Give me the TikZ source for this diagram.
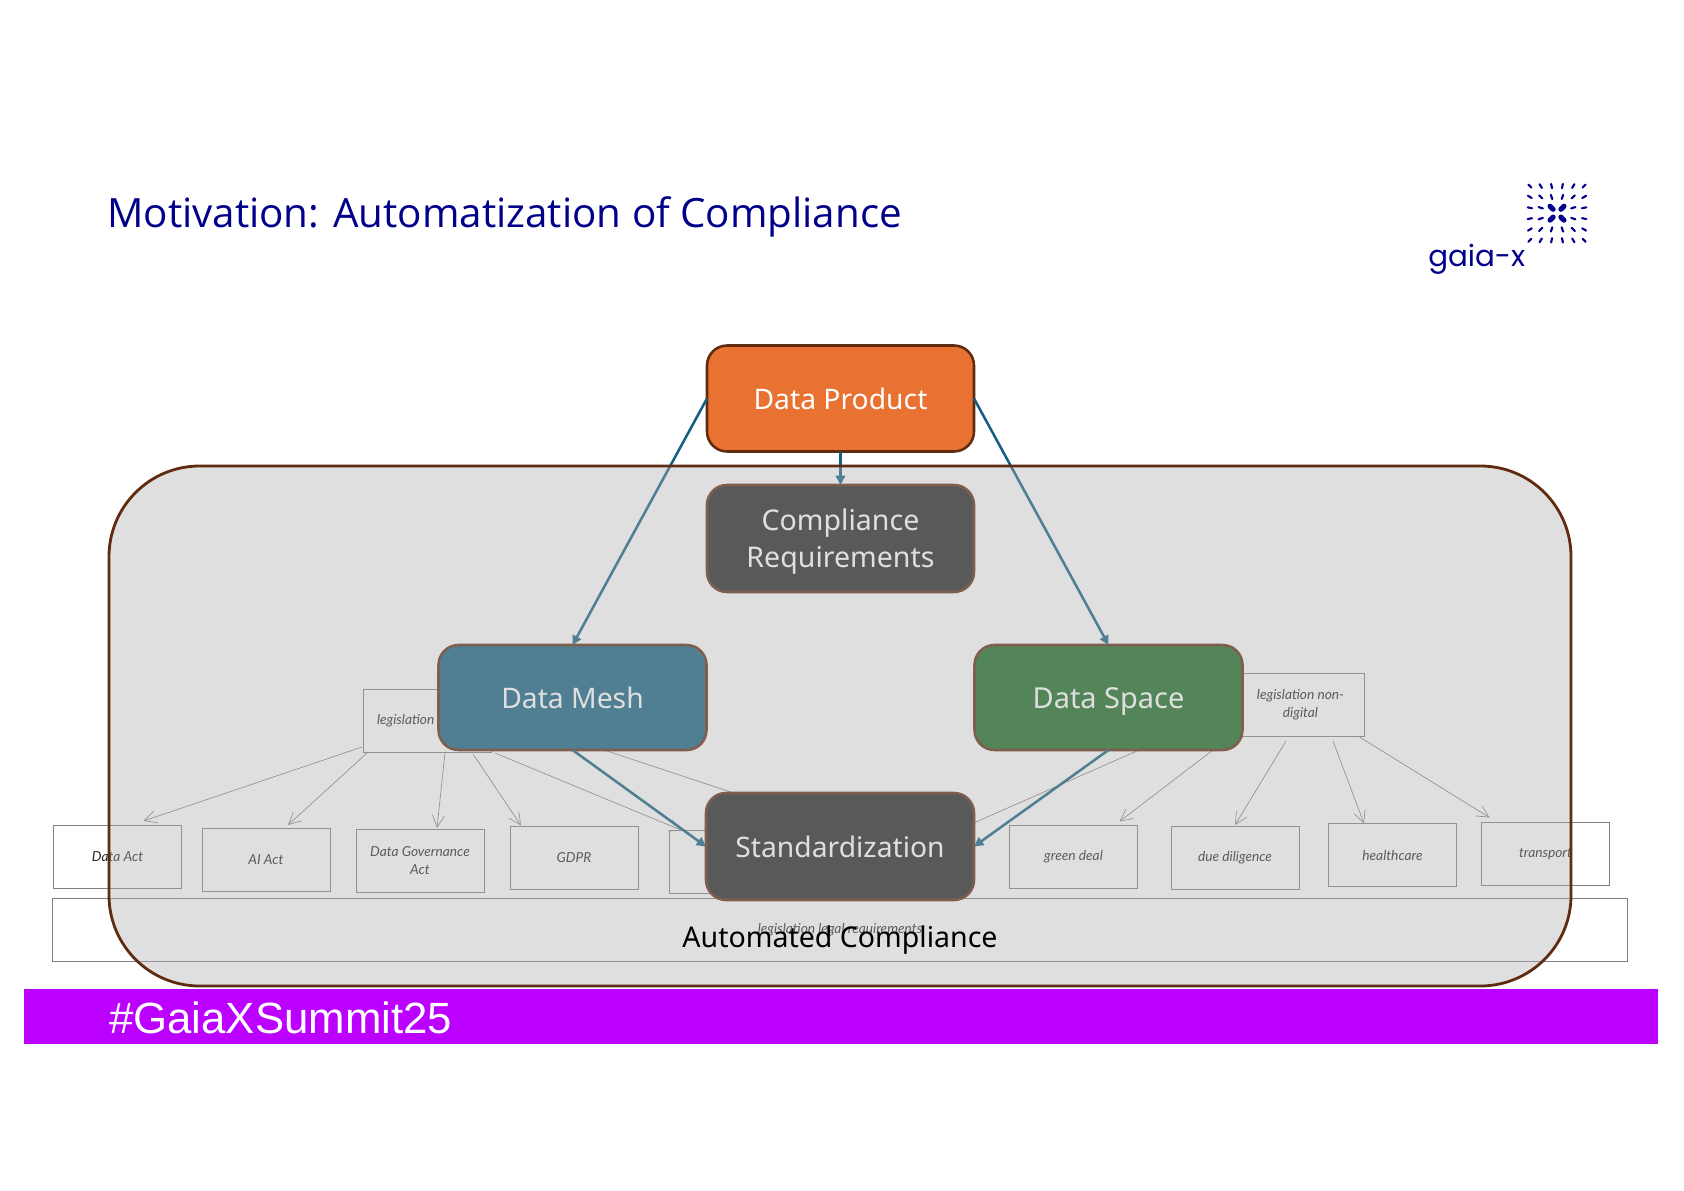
\documentclass[tikz,border=0pt]{standalone}
\usepackage{fontspec}
\setmainfont{Noto Sans}
\newfontfamily\titlefont{Open Sans}
\newfontfamily\hashfont{Liberation Sans}
\newfontfamily\logofont{Poppins}
\newfontfamily\sketchfont{Lato}
\usetikzlibrary{arrows.meta}
\definecolor{navy}{HTML}{00008B}
\definecolor{brownline}{HTML}{5F2C10}
\definecolor{flow}{HTML}{156082}
\definecolor{orangefill}{HTML}{E97132}
\definecolor{greenfill}{HTML}{196B24}
\definecolor{darkfill}{HTML}{242424}
\definecolor{overlay}{HTML}{AFAFAF}
\definecolor{summit}{HTML}{BB00FF}
\definecolor{sketchline}{HTML}{808080}
\tikzset{
  x=0.75pt,y=-0.75pt,
  sized/.style 2 args={minimum width=#1*0.75pt,minimum height=#2*0.75pt},
  sketchbox/.style={draw=sketchline,line width=0.75pt,inner sep=0pt,outer sep=0pt,align=center,sized={128}{63},
    font=\sketchfont\itshape\fontsize{10.3}{13.2}\selectfont,text=black!85},
  sketcharrow/.style={draw=sketchline,line width=0.5pt,-{Straight Barb[length=9pt,width=9pt,line width=0.5pt]}},
  sketchline/.style={draw=sketchline,line width=0.5pt},
  mainbox/.style={draw=brownline,line width=1.9pt,rounded corners=15pt,inner sep=0pt,outer sep=0pt,align=center,
    sized={267}{106},text=white,font=\fontsize{21.2}{28.2}\selectfont},
  flowarrow/.style={draw=flow,line width=1.9pt,-{Triangle[length=7pt,width=7pt]}},
  logodash/.style={draw=navy,line width=1.6pt,line cap=round},
  logocore/.style={draw=navy,line width=3.8pt,line cap=round},
}
\begin{document}
\begin{tikzpicture}
\useasboundingbox (0,0) rectangle (1684,1191);
\fill[white] (0,0) rectangle (1684,1191);
% sketch layer
\node[sketchbox] (dataact) at (117.5,856.5) {Data Act};
\node[sketchbox] (aiact) at (266,859.5) {AI Act};
\node[sketchbox] (dga) at (420,860.5) {Data Governance\\Act};
\node[sketchbox] (gdpr) at (574,858) {GDPR};
\node[sketchbox] (hidden) at (733.5,862) {};
\node[sketchbox,text width=75pt,align=left,inner xsep=10.5pt] (legis) at (427,720.5) {legislation};
\node[sketchbox] (legisnd) at (1300.5,704.5) {legislation non-\\digital};
\node[sketchbox] (green) at (1073.5,857) {green deal};
\node[sketchbox] (due) at (1235,857.5) {due diligence};
\node[sketchbox] (health) at (1392.5,855) {healthcare};
\node[sketchbox] (transport) at (1545.5,854) {transport};
\node[sketchbox,sized={1575}{63}] (legal) at (840,930) {legislation legal requirements};
\coordinate (ghostleft) at (800,815);
\coordinate (ghostright) at (900,855.5);
\draw[sketcharrow] ([shift={(-1,-5)}]legis.south west) -- ([shift={(26,-4)}]dataact.north);
\draw[sketcharrow] ([shift={(4,1)}]legis.south west) -- ([shift={(22,-3)}]aiact.north);
\draw[sketcharrow] ([shift={(18,1)}]legis.south) -- ([shift={(17,-1)}]dga.north);
\draw[sketcharrow] ([shift={(46,2)}]legis.south) -- ([shift={(-53,-1)}]gdpr.north);
\draw[sketcharrow] ([shift={(4,1)}]legis.south east) -- ([shift={(-51.5,0)}]hidden.north);
\draw[sketchline] ([shift={(0,-8)}]legis.east) -- (ghostleft);
\draw[sketchline] ([shift={(0,2.5)}]legisnd.west) -- (ghostright);
\draw[sketcharrow] ([shift={(0,-4)}]legisnd.south west) -- ([shift={(46,-4)}]green.north);
\draw[sketcharrow] ([shift={(-14.5,5)}]legisnd.south) -- ([shift={(0,-1)}]due.north);
\draw[sketcharrow] ([shift={(32.5,5)}]legisnd.south) -- ([shift={(-28.5,0)}]health.north);
\draw[sketcharrow] ([shift={(-5,1)}]legisnd.south east) -- ([shift={(-56,-5)}]transport.north);
% main boxes
\node[mainbox,fill=orangefill] (product) at (840.5,398.5) {\raisebox{-7.9pt}[0pt][0pt]{Data Product}};
\node[mainbox,fill=darkfill,sized={267}{107},font=\fontsize{21.4}{28.2}\selectfont] (compliance) at (840.5,538.5) {\begin{tabular}{@{}c@{}}\rule{0pt}{24.5pt}Compliance\\[-0.2pt]Requirements\end{tabular}};
\node[mainbox,fill=flow,sized={268}{105}] (mesh) at (572.5,697.5) {\raisebox{-7.9pt}[0pt][0pt]{Data Mesh}};
\node[mainbox,fill=greenfill,sized={268}{105},font=\fontsize{21.7}{28.2}\selectfont] (space) at (1108.5,697.5) {\raisebox{-7.9pt}[0pt][0pt]{Data Space}};
\node[mainbox,fill=darkfill,sized={268}{107}] (std) at (840,846.5) {\raisebox{-8.2pt}[0pt][0pt]{Standardization}};
\draw[flowarrow] (product.south) -- (compliance.north);
\draw[flowarrow] (product.west) -- (mesh.north);
\draw[flowarrow] (product.east) -- (space.north);
\draw[flowarrow] (mesh.south) -- (std.west);
\draw[flowarrow] (space.south) -- (std.east);
% bar
\node[fill=summit,inner sep=0pt,outer sep=0pt,sized={1634}{55.5}] (bar) at (841,1016.5) {};
\node[anchor=base west,inner sep=0pt,text=white,font=\hashfont\fontsize{32.8}{36}\selectfont] (hash) at (109,1033) {\#GaiaXSummit25};
% panel overlay
\node[fill=overlay,fill opacity=0.39,draw=brownline,draw opacity=1,line width=2.1pt,rounded corners=68pt,inner sep=0pt,outer sep=0pt,sized={1462}{520}] (panel) at (840,726) {};
\node[text=black,inner sep=0pt,font=\fontsize{21.4}{24}\selectfont] (autolabel) at (840,940.5) {Automated Compliance};
% title
\node[anchor=base west,inner sep=0pt,text=navy,font=\titlefont\fontsize{30.25}{36}\selectfont] (title) at (107,228) {Motivation: Automatization of Compliance};
% logo
\foreach \col in {-2.5,-1.5,-0.5,0.5,1.5,2.5}{
  \foreach \row in {-2.5,-1.5,-0.5,0.5,1.5,2.5}{
    \pgfmathsetmacro{\cx}{1557+\col*10.85}
    \pgfmathsetmacro{\cy}{213.2+\row*10.85}
    \pgfmathsetmacro{\nrm}{sqrt(\col*\col+\row*\row)}
    \pgfmathsetmacro{\ux}{\col/\nrm}
    \pgfmathsetmacro{\uy}{\row/\nrm}
    \ifdim \nrm pt<1pt
      \draw[logocore] (\cx-\ux*2.2,\cy-\uy*2.2) -- (\cx+\ux*2.2,\cy+\uy*2.2);
    \else
      \draw[logodash] (\cx-\ux*2.2,\cy-\uy*2.2) -- (\cx+\ux*2.2,\cy+\uy*2.2);
    \fi
  }
}
\node[anchor=base west,inner sep=0pt,text=navy,font=\logofont\fontsize{22}{26}\selectfont] (gaia) at (1428,267) {gaia-x};
\end{tikzpicture}
\end{document}
